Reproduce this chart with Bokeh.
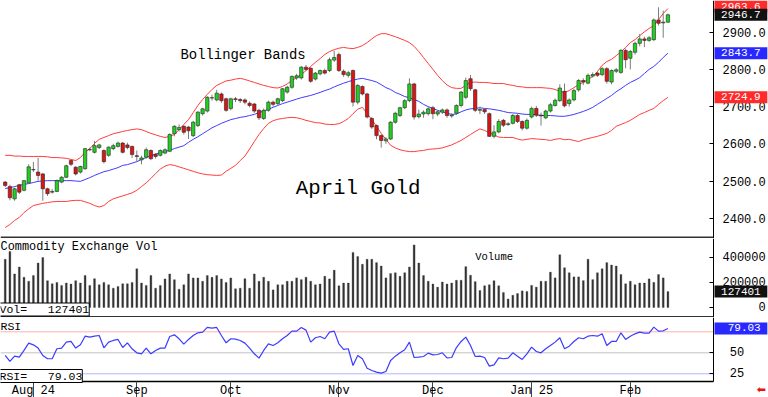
from bokeh.plotting import figure
from bokeh.models import Range1d, FixedTicker, Label, NumeralTickFormatter, ColumnDataSource, LinearAxis
from bokeh.layouts import column
from bokeh.embed import file_html
from bokeh.resources import INLINE

# ---------------- data ----------------
opens = [2497, 2485, 2452, 2490, 2475, 2495, 2531, 2524, 2519, 2479,
         2470, 2472, 2497, 2510, 2555, 2537, 2524, 2533, 2585, 2577,
         2590, 2582, 2569, 2587, 2593, 2602, 2597, 2593, 2568, 2557,
         2564, 2582, 2572, 2569, 2575, 2580, 2627, 2638, 2647, 2645,
         2622, 2649, 2681, 2688, 2724, 2718, 2734, 2721, 2695, 2721,
         2719, 2718, 2709, 2707, 2690, 2668, 2690, 2712, 2708, 2716,
         2739, 2752, 2777, 2777, 2806, 2803, 2774, 2788, 2797, 2797,
         2825, 2840, 2795, 2784, 2797, 2712, 2754, 2734, 2668, 2649,
         2622, 2608, 2613, 2658, 2676, 2697, 2716, 2761, 2673, 2680,
         2681, 2697, 2680, 2685, 2691, 2675, 2682, 2703, 2725, 2775,
         2745, 2690, 2692, 2681, 2620, 2632, 2663, 2652, 2655, 2676,
         2660, 2642, 2672, 2695, 2677, 2670, 2688, 2703, 2716, 2741,
         2708, 2718, 2745, 2770, 2763, 2782, 2790, 2786, 2802, 2766,
         2795, 2792, 2851, 2830, 2846, 2870, 2882, 2878, 2880, 2933,
         2925, 2927]
highs = [2500, 2490, 2482, 2492, 2503, 2545, 2551, 2562, 2522, 2482,
         2478, 2504, 2513, 2544, 2558, 2540, 2541, 2589, 2590, 2608,
         2600, 2585, 2593, 2600, 2606, 2605, 2603, 2595, 2582, 2568,
         2590, 2585, 2575, 2585, 2588, 2628, 2650, 2652, 2650, 2648,
         2662, 2688, 2697, 2728, 2732, 2745, 2738, 2724, 2724, 2726,
         2723, 2722, 2714, 2710, 2694, 2695, 2716, 2716, 2724, 2750,
         2756, 2784, 2788, 2809, 2812, 2806, 2793, 2800, 2802, 2832,
         2850, 2845, 2800, 2796, 2800, 2760, 2757, 2737, 2672, 2652,
         2626, 2618, 2661, 2686, 2700, 2720, 2776, 2764, 2692, 2690,
         2700, 2702, 2690, 2695, 2695, 2682, 2706, 2742, 2778, 2785,
         2748, 2700, 2696, 2684, 2650, 2666, 2667, 2658, 2680, 2680,
         2663, 2668, 2700, 2702, 2684, 2692, 2710, 2722, 2760, 2762,
         2722, 2748, 2774, 2776, 2789, 2792, 2795, 2806, 2806, 2800,
         2804, 2855, 2856, 2852, 2875, 2895, 2888, 2890, 2937, 2967,
         2958, 2950]
lows = [2484, 2448, 2447, 2465, 2472, 2492, 2524, 2501, 2447, 2460,
        2466, 2470, 2494, 2508, 2540, 2515, 2520, 2530, 2580, 2574,
        2586, 2547, 2565, 2583, 2590, 2574, 2585, 2562, 2551, 2545,
        2560, 2556, 2560, 2566, 2572, 2578, 2620, 2633, 2625, 2613,
        2618, 2645, 2676, 2684, 2716, 2714, 2710, 2686, 2690, 2712,
        2710, 2706, 2698, 2683, 2664, 2664, 2686, 2700, 2704, 2712,
        2735, 2748, 2772, 2773, 2796, 2764, 2770, 2784, 2786, 2793,
        2820, 2793, 2780, 2778, 2700, 2706, 2730, 2668, 2640, 2612,
        2590, 2600, 2610, 2654, 2672, 2693, 2712, 2665, 2668, 2670,
        2676, 2666, 2674, 2680, 2670, 2670, 2678, 2698, 2720, 2742,
        2685, 2680, 2680, 2618, 2615, 2628, 2645, 2648, 2652, 2656,
        2636, 2638, 2668, 2672, 2649, 2666, 2684, 2700, 2712, 2698,
        2700, 2714, 2740, 2758, 2760, 2778, 2780, 2782, 2762, 2760,
        2790, 2788, 2803, 2800, 2840, 2862, 2860, 2874, 2876, 2918,
        2885, 2925]
closes = [2488, 2455, 2479, 2470, 2501, 2538, 2530, 2515, 2479, 2466,
          2472, 2501, 2510, 2541, 2545, 2519, 2539, 2587, 2584, 2595,
          2597, 2552, 2591, 2595, 2602, 2577, 2590, 2571, 2566, 2562,
          2584, 2560, 2566, 2582, 2584, 2625, 2647, 2644, 2631, 2635,
          2658, 2685, 2694, 2725, 2723, 2736, 2716, 2690, 2721, 2719,
          2716, 2712, 2703, 2688, 2670, 2690, 2712, 2706, 2721, 2748,
          2752, 2781, 2783, 2806, 2800, 2768, 2790, 2797, 2790, 2826,
          2832, 2797, 2786, 2791, 2712, 2757, 2734, 2672, 2645, 2622,
          2609, 2613, 2658, 2682, 2697, 2716, 2761, 2672, 2680, 2685,
          2694, 2681, 2686, 2691, 2676, 2677, 2703, 2739, 2770, 2748,
          2690, 2692, 2686, 2620, 2632, 2660, 2650, 2654, 2676, 2660,
          2642, 2663, 2695, 2677, 2675, 2688, 2705, 2717, 2750, 2702,
          2718, 2743, 2770, 2766, 2784, 2786, 2784, 2802, 2768, 2797,
          2799, 2851, 2826, 2848, 2870, 2882, 2878, 2885, 2933, 2924,
          2927, 2946.7]
upper_band = [2569, 2569, 2567, 2567, 2566, 2566, 2566, 2566, 2566, 2565,
              2563, 2563, 2562, 2561, 2558, 2555, 2563, 2577, 2587, 2601,
              2612, 2617, 2622, 2627, 2630, 2633, 2636, 2638, 2640, 2638,
              2633, 2628, 2624, 2620, 2617, 2620, 2625, 2638, 2652, 2665,
              2684, 2703, 2719, 2733, 2746, 2757, 2763, 2769, 2771, 2774,
              2776, 2773, 2769, 2765, 2761, 2757, 2754, 2751, 2750, 2754,
              2761, 2770, 2778, 2786, 2797, 2808, 2819, 2829, 2840, 2848,
              2853, 2857, 2859, 2857, 2856, 2859, 2864, 2872, 2882, 2891,
              2896, 2896, 2892, 2888, 2883, 2878, 2872, 2862, 2848, 2832,
              2816, 2800, 2784, 2770, 2758, 2751, 2749, 2749, 2757, 2765,
              2766, 2765, 2765, 2764, 2762, 2762, 2762, 2759, 2757, 2754,
              2753, 2751, 2751, 2751, 2751, 2750, 2749, 2746, 2741, 2738,
              2743, 2751, 2759, 2765, 2773, 2781, 2794, 2811, 2821, 2827,
              2837, 2847, 2859, 2872, 2880, 2891, 2901, 2910, 2918, 2934,
              2950, 2963.6]
mid_band = [2480, 2482, 2485, 2488, 2491, 2493, 2496, 2499, 2500, 2501,
            2501, 2501, 2501, 2501, 2501, 2500, 2499, 2504, 2509, 2515,
            2520, 2525, 2528, 2532, 2536, 2542, 2544, 2548, 2552, 2558,
            2563, 2568, 2572, 2577, 2579, 2583, 2587, 2591, 2595, 2604,
            2612, 2619, 2627, 2635, 2643, 2649, 2655, 2660, 2665, 2668,
            2671, 2673, 2676, 2679, 2684, 2688, 2693, 2698, 2703, 2708,
            2712, 2716, 2720, 2724, 2727, 2730, 2734, 2738, 2743, 2747,
            2753, 2758, 2763, 2767, 2771, 2774, 2776, 2773, 2770, 2766,
            2759, 2751, 2746, 2738, 2733, 2727, 2724, 2719, 2714, 2706,
            2700, 2695, 2690, 2686, 2682, 2679, 2680, 2686, 2691, 2694,
            2695, 2697, 2695, 2694, 2692, 2690, 2687, 2684, 2683, 2682,
            2680, 2679, 2679, 2678, 2676, 2676, 2676, 2675, 2674, 2674,
            2676, 2679, 2683, 2687, 2692, 2698, 2706, 2714, 2722, 2730,
            2740, 2748, 2757, 2765, 2771, 2778, 2789, 2800, 2808, 2819,
            2832, 2843.7]
lower_band = [2375, 2383, 2394, 2402, 2415, 2425, 2434, 2437, 2440, 2442,
              2444, 2445, 2445, 2445, 2447, 2448, 2448, 2444, 2440, 2434,
              2430, 2434, 2445, 2452, 2456, 2460, 2464, 2468, 2475, 2485,
              2495, 2507, 2520, 2532, 2540, 2544, 2542, 2538, 2534, 2530,
              2526, 2522, 2519, 2517, 2516, 2515, 2516, 2526, 2534, 2542,
              2555, 2567, 2586, 2606, 2625, 2641, 2655, 2662, 2666, 2668,
              2670, 2671, 2670, 2667, 2663, 2660, 2657, 2656, 2653, 2652,
              2652, 2654, 2660, 2668, 2681, 2693, 2698, 2681, 2665, 2647,
              2628, 2612, 2596, 2589, 2584, 2581, 2579, 2579, 2581, 2582,
              2585, 2586, 2587, 2589, 2593, 2597, 2603, 2609, 2617, 2625,
              2633, 2640, 2636, 2630, 2624, 2618, 2617, 2617, 2617, 2613,
              2610, 2612, 2614, 2613, 2612, 2611, 2609, 2612, 2614, 2611,
              2612, 2609, 2606, 2611, 2614, 2617, 2620, 2624, 2628, 2636,
              2647, 2652, 2657, 2663, 2671, 2679, 2684, 2690, 2695, 2706,
              2716, 2724.9]
volume = [386000, 449000, 269000, 324000, 242000, 210000, 256000, 356000, 400000, 215000,
          190000, 201000, 177000, 196000, 188000, 215000, 196000, 256000, 177000, 231000,
          182000, 201000, 182000, 155000, 169000, 190000, 190000, 201000, 310000, 196000,
          177000, 256000, 155000, 177000, 229000, 269000, 223000, 147000, 182000, 269000,
          237000, 237000, 210000, 256000, 242000, 256000, 229000, 201000, 237000, 150000,
          155000, 231000, 155000, 269000, 210000, 242000, 210000, 141000, 182000, 182000,
          210000, 210000, 237000, 223000, 242000, 210000, 182000, 188000, 250000, 229000,
          299000, 174000, 196000, 196000, 441000, 408000, 346000, 386000, 386000, 359000,
          332000, 237000, 272000, 278000, 250000, 278000, 324000, 501000, 356000, 256000,
          210000, 188000, 163000, 204000, 188000, 196000, 218000, 218000, 327000, 258000,
          207000, 136000, 174000, 182000, 215000, 174000, 120000, 68000, 98000, 112000,
          133000, 128000, 177000, 163000, 210000, 210000, 283000, 237000, 422000, 318000,
          278000, 245000, 245000, 215000, 386000, 223000, 278000, 310000, 359000, 340000,
          332000, 264000, 190000, 210000, 182000, 196000, 196000, 229000, 201000, 264000,
          237000, 127401]
rsi = [46.8, 39.7, 46.0, 44.8, 52.8, 61.5, 59.5, 55.6, 46.8, 42.9,
       42.9, 54.8, 55.6, 62.7, 63.5, 55.6, 59.5, 69.8, 68.7, 69.8,
       70.6, 56.0, 62.7, 64.7, 65.9, 56.3, 61.9, 54.8, 50.0, 48.8,
       55.6, 48.8, 52.8, 55.6, 55.6, 69.4, 71.4, 66.7, 60.3, 65.9,
       70.6, 73.8, 74.6, 80.2, 79.4, 80.2, 70.6, 61.9, 66.7, 66.3,
       64.7, 61.5, 55.6, 48.8, 43.7, 52.8, 60.7, 58.7, 61.9, 66.7,
       70.6, 75.8, 75.8, 80.2, 77.0, 62.7, 67.9, 69.4, 66.7, 74.6,
       75.8, 60.7, 54.0, 54.8, 34.9, 46.8, 42.9, 31.7, 29.0, 27.0,
       25.8, 27.8, 40.9, 46.0, 50.0, 53.6, 62.7, 44.4, 44.8, 45.6,
       49.6, 47.6, 48.0, 50.0, 44.0, 44.4, 56.3, 63.5, 68.7, 58.7,
       45.6, 46.0, 44.4, 34.1, 35.7, 44.0, 42.9, 43.7, 50.0, 46.0,
       42.1, 48.8, 56.7, 51.6, 50.0, 54.8, 58.7, 62.7, 67.9, 54.8,
       57.9, 63.5, 67.9, 66.7, 69.8, 70.6, 69.8, 72.6, 58.7, 63.5,
       63.5, 73.8, 65.9, 69.8, 72.6, 74.6, 73.4, 73.4, 80.6, 75.8,
       76.2, 79.03]
month_ticks = [6, 28, 48, 71, 91, 112, 133]
month_labels = ["Aug 24", "Sep", "Oct", "Nov", "Dec", "Jan 25", "Feb"]
price_ticks = [2400, 2500, 2600, 2700, 2800, 2900]
volume_ticks = [0, 200000, 400000]
rsi_ticks = [25, 50]
rsi_levels = [75, 50, 25]

# ---------------- layout constants ----------------
FONT = "Liberation Mono"
W = 768
NB = "\u00a0"
BOX = "11px"
N = len(closes)
xs = list(range(N))
XL, XR, XMAX = -1.0, 150.7, 162.4          # frame covers the whole width
x_range = Range1d(XL, XMAX)

PPX = 100 / 37.2                            # price per pixel
P_HI = 2900 + 31.7 * PPX
P_LO = 2900 - (238 - 31.7) * PPX
P_DIV = 2900 - (237 - 31.7) * PPX
VPX = 8000                                  # volume per pixel
V_HI = (307 - 238) * VPX
V_LO = (307 - 317) * VPX
V_DIV = (307 - 316.5) * VPX
RPX = 1 / 0.84                              # rsi per pixel
R_HI = 50 + (352.3 - 317) * RPX
R_AX = 50 - (381 - 352.3) * RPX
R_BOT = 50 - (397 - 352.3) * RPX


def base_fig(h, yr, bounds=None):
    p = figure(width=W, height=h, x_range=x_range, y_range=yr,
               output_backend="svg", toolbar_location=None,
               x_axis_location=None, y_axis_location="right",
               min_border_left=0, min_border_right=0,
               min_border_top=0, min_border_bottom=0)
    p.grid.visible = False
    p.outline_line_color = None
    ya = p.yaxis[0]
    ya.fixed_location = XR
    if bounds is not None:
        ya.bounds = bounds
    ya.axis_line_color = "black"
    ya.major_tick_in = 4
    ya.major_tick_out = 0
    ya.minor_tick_line_color = None
    ya.major_tick_line_color = "black"
    ya.major_label_standoff = 9
    ya.major_label_text_font = FONT
    ya.major_label_text_font_size = "12px"
    ya.major_label_text_color = "black"
    return p


def lab(p, x, y, text, size, color="black", align="left", baseline="middle",
        bg=None, border=None, xo=0, yo=0, font=FONT):
    p.add_layout(Label(x=x, y=y, text=text, text_font=font, text_font_size=size,
                       text_color=color, text_align=align, text_baseline=baseline,
                       x_offset=xo, y_offset=yo, background_fill_color=bg,
                       border_line_color=border))


# ---------------- price panel ----------------
p1 = base_fig(238, Range1d(P_LO, P_HI))
p1.yaxis[0].ticker = FixedTicker(ticks=price_ticks)
p1.yaxis[0].formatter = NumeralTickFormatter(format="0.0")

src = ColumnDataSource(dict(
    x=xs, h=highs, l=lows,
    top=[max(o, c) for o, c in zip(opens, closes)],
    bot=[min(o, c) for o, c in zip(opens, closes)],
    col=["#22d022" if c >= o else "#dd1414" for o, c in zip(opens, closes)],
))
p1.line(xs, upper_band, line_color="#ff3c3c", line_width=1)
p1.line(xs, lower_band, line_color="#ff3c3c", line_width=1)
p1.line(xs, mid_band, line_color="#3c3cff", line_width=1)
p1.segment(x0="x", y0="l", x1="x", y1="h", source=src, line_color="#7c7c7c", line_width=1)
p1.vbar(x="x", width=0.72, top="top", bottom="bot", source=src,
        fill_color="col", line_color="#262626", line_width=0.6)
p1.segment(x0=[XL], y0=[P_DIV], x1=[XR], y1=[P_DIV], line_color="#333333", line_width=2)

lab(p1, 37.3, 2900 - (54 - 31.7) * PPX, "Bollinger Bands", "13.9px")
lab(p1, 61.8, 2900 - (188 - 31.7) * PPX, "April Gold", "20.8px")
lab(p1, XR, upper_band[-1], NB + "2963.6" + NB, BOX, color="white", bg="#ff2a2a", xo=1, yo=2)
lab(p1, XR, closes[-1], NB + "2946.7" + NB, BOX, color="white", bg="#111111", xo=1)
lab(p1, XR, mid_band[-1], NB + "2843.7" + NB, BOX, color="white", bg="#2828ff", xo=1)
lab(p1, XR, lower_band[-1], NB + "2724.9" + NB, BOX, color="white", bg="#ff2a2a", xo=1)

# ---------------- volume panel ----------------
p2 = base_fig(79, Range1d(V_LO, V_HI))
p2.yaxis[0].ticker = FixedTicker(ticks=volume_ticks)
p2.yaxis[0].major_label_overrides = {t: (NB * (6 - len(str(t))) + str(t)) for t in volume_ticks}
p2.vbar(x=xs, top=volume, bottom=0, width=0.4, fill_color="#333333", line_color="#333333", line_width=0.3)
p2.segment(x0=[XL], y0=[V_DIV], x1=[XR], y1=[V_DIV], line_color="#333333", line_width=2)
lab(p2, XL, V_HI, "Commodity Exchange Vol", "11.9px", baseline="top", yo=-1)
lab(p2, 100.0, (307 - 256.7) * VPX, "Volume", "10.5px")
lab(p2, XL, (307 - 309) * VPX, "Vol=" + NB * 3 + "127401", "11.5px", bg="white", border="black", xo=-1)
lab(p2, XR, volume[-1], NB + "127401" + NB, BOX, color="white", bg="#111111", xo=1)

# ---------------- RSI panel ----------------
p3 = base_fig(80, Range1d(R_BOT, R_HI), bounds=(R_AX, R_HI))
p3.yaxis[0].ticker = FixedTicker(ticks=rsi_ticks)
p3.yaxis[0].major_label_overrides = {t: NB + str(t) for t in rsi_ticks}
for lvl, colr in zip(rsi_levels, ["#ffb0b0", "#c4c4c4", "#b4b4ff"]):
    p3.segment(x0=[XL], y0=[lvl], x1=[XR], y1=[lvl], line_color=colr, line_width=1)
p3.line(xs, rsi, line_color="#3c3cff", line_width=1.2)

xa = LinearAxis(fixed_location=R_AX, bounds=(XL, XR))
xa.ticker = FixedTicker(ticks=month_ticks)
xa.major_label_overrides = {t: s for t, s in zip(month_ticks, month_labels)}
xa.major_tick_out = 16
xa.major_tick_in = 0
xa.minor_tick_line_color = None
xa.major_label_standoff = -14
xa.major_label_text_align = "left"
xa.major_label_text_font = FONT
xa.major_label_text_font_size = "12px"
xa.major_label_text_color = "black"
xa.axis_line_color = "black"
xa.axis_line_width = 1.5
xa.major_tick_line_color = "#444444"
p3.add_layout(xa, "below")

lab(p3, XL, 50 + (352.3 - 325.5) * RPX, "RSI", "11.5px")
lab(p3, XL, 50 - (375.5 - 352.3) * RPX, "RSI=" + NB * 3 + "79.03", "11.5px", bg="white", border="black", xo=-1)
lab(p3, XR, rsi[-1], NB * 2 + "79.03" + NB, BOX, color="white", bg="#2828ff", xo=1)
lab(p3, 160.9, 50 - (389 - 352.3) * RPX, "\u2b05", "11px", color="#ee1111", align="center", font="DejaVu Sans")

layout = column(p1, p2, p3)
open("out.html", "w").write(file_html(layout, INLINE))
